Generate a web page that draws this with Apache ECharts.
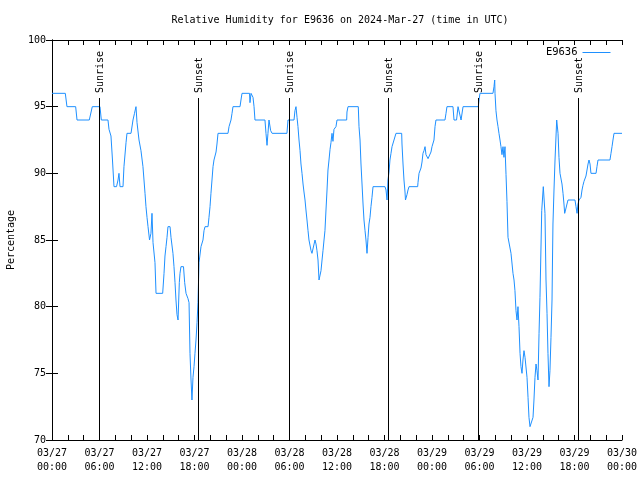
<!DOCTYPE html>
<html>
<head>
<meta charset="utf-8">
<script src="https://cdn.jsdelivr.net/npm/echarts@6/dist/echarts.min.js"></script>
<style>html,body{margin:0;padding:0;background:#fff;}#c{width:640px;height:480px;}</style>
</head>
<body>
<div id="c"></div>
<script>
// hours since 2024-03-27 00:00 UTC
const hours = [
0,1.68,1.89,2.99,3.16,4.71,5.09,6.06,6.23,7.07,7.2,7.45,7.64,7.83,8.15,8.34,8.46,8.59,8.97,9.09,
9.35,9.47,9.98,10.23,10.42,10.61,10.74,10.99,11.24,11.49,11.75,11.87,12.0,12.13,12.32,12.5,12.63,12.76,13.01,13.14,
13.98,14.15,14.27,14.4,14.53,14.65,14.91,15.03,15.28,15.41,15.54,15.66,15.79,15.92,16.08,16.17,16.29,16.61,16.76,16.93,
17.18,17.31,17.43,17.56,17.68,17.81,17.94,18.06,18.19,18.32,18.44,18.57,18.82,19.07,19.2,19.33,19.71,19.83,19.96,20.08,
20.21,20.34,20.46,20.72,20.84,20.97,22.23,22.36,22.61,22.74,22.86,23.75,23.87,24.0,24.95,25.01,25.14,25.26,25.39,25.52,
25.64,26.9,27.03,27.16,27.28,27.41,27.62,27.8,29.68,29.81,30.57,30.69,30.82,30.95,31.07,31.2,31.33,31.45,31.58,31.71,
31.83,31.96,32.08,32.21,32.34,32.46,32.72,32.84,33.09,33.22,33.35,33.47,33.6,33.73,33.98,34.11,34.23,34.36,34.48,34.61,
34.74,34.86,34.99,35.12,35.24,35.37,35.49,35.62,35.87,36.0,37.22,37.26,37.39,38.69,38.78,38.91,39.03,39.16,39.29,39.41,
39.54,39.66,39.79,39.92,40.04,40.17,40.29,40.42,40.55,42.06,42.19,42.32,42.44,42.57,42.69,42.82,42.95,43.2,43.45,44.17,
44.21,44.34,44.46,44.59,44.65,44.84,44.97,45.1,46.19,46.23,46.36,46.61,46.74,46.86,46.99,47.12,47.24,47.5,47.75,47.87,
48.0,48.25,48.38,48.5,49.64,49.77,49.89,50.65,50.78,51.1,51.29,51.48,51.67,51.79,51.92,53.85,53.94,54.06,55.7,55.83,
55.92,55.96,56.08,56.21,56.34,56.46,56.59,56.71,56.84,56.97,57.09,57.22,57.35,57.47,57.6,57.98,58.23,58.36,58.48,58.61,
58.74,58.86,58.99,59.12,59.24,59.37,59.49,59.62,59.75,60.0,60.13,60.25,60.38,60.63,60.76,60.88,61.01,61.14,61.26,61.39,
61.52,61.64,61.86,62.06,62.27,62.4,62.53,62.65,62.78,62.9,63.03,63.16,63.22,63.28,63.41,63.54,63.75,63.92,64.04,64.17,
64.42,64.55,64.67,64.76,64.93,65.05,65.18,66.06,66.19,66.32,66.44,66.57,66.82,66.95,67.07,67.2,67.45,67.58,67.71,67.83,
67.96,68.08,68.72,68.84,68.97,70.48,70.61,70.74,70.86,70.99,72
];
const humidity = [
96,96,95,95,94,94,95,95,94,94,93.3,92.8,91,89,89,89.5,90,89,89,90.5,
92.3,93,93,94,94.5,95,93.8,92.5,91.7,90.5,88.5,87.5,86.7,86,85,85.5,87,84.8,83.3,81,
81,82.5,83.8,84.5,85.2,86,86,85.2,84,83,81.8,80.5,79.4,79,81.8,82.5,83,83,81.8,81,
80.6,80.3,76.5,74.5,73,74.7,75.5,76.5,77.5,78.8,80.3,83.3,84.5,85,85.7,86,86,86.7,87.5,88.5,
89.5,90.5,91,91.6,92.2,93,93,93.5,94,94.5,95,95,95.5,96,96,95.3,96,96,95.7,95,
94,94,93,92.1,93,94,93.2,93,93,94,94,94.7,95,94.2,93.5,92.5,91.7,90.7,90,89.2,
88.6,88,87.25,86.5,85.7,85,84.2,84,84,85,84.7,84.2,83.5,82,82.7,83.5,84.2,85,85.7,87.25,
88.75,90.25,91,91.8,92.3,93,92.4,93.3,93.5,94,94,94.6,95,95,93.5,92.5,90.7,89.2,87.7,86.5,
85.7,85,84,85.2,86.2,86.7,87.5,88.2,89,89,88.75,88,89.5,90.1,91,91.5,92,92.5,93,93,
92.2,90.7,89.5,88.6,88,88.4,88.75,89,89,89.3,90,90.4,90.85,91.5,91.7,92,91.4,91.1,91.1,91.6,
92,92.5,93.5,94,94,94.5,95,95,94,94,95,95,94,94,95,95,95.5,96,96,96.5,
97,96,94.7,94,93.5,93,92.5,92,91.4,92,91.2,92,89.9,87.9,85.2,84,82.5,82,81.2,79.7,
79,80,78.5,76.5,75.5,75,76,76.7,76.2,74.7,73.2,71.7,71,71,71.7,73,74.7,75.7,75.2,74.5,
78,80.7,87.2,89,87,82,79.5,76.5,74,75.2,77.7,80.5,83.5,86.2,88.75,91,94,93,91.2,90,
89.2,88.5,87.7,87,87.4,87.7,88,88,87.5,87,87.7,88,88.2,88.75,89.1,89.4,89.8,90.25,90.7,91,
90.7,90,90,90.5,91,91,91.5,92,92.5,93,93
];
const sunHours = [5.97, 18.47, 29.96, 42.47, 53.87, 66.47];
const sunLabels = ['Sunrise', 'Sunset', 'Sunrise', 'Sunset', 'Sunrise', 'Sunset'];
const xTicks = [0, 6, 12, 18, 24, 30, 36, 42, 48, 54, 60, 66, 72];
const yTicks = [70, 75, 80, 85, 90, 95, 100];

const FONT = 'DejaVu Sans Mono';
const pad = n => (n < 10 ? '0' : '') + n;
function fmtX(v) {
  const d = 27 + Math.floor(v / 24);
  const h = Math.round(v % 24);
  const day = d > 31 ? d - 31 : d;
  const mon = d > 31 ? 4 : 3;
  return pad(mon) + '/' + pad(day) + '\n' + pad(h) + ':00';
}

const chart = echarts.init(document.getElementById('c'), null, {renderer: 'canvas'});
const axisLine = {show: true, lineStyle: {color: '#000', width: 1}};
const lineData = hours.map((h, i) => [h, humidity[i]]);
const sunData = sunHours.map((h, i) => [h, sunLabels[i]]);

chart.setOption({
  backgroundColor: '#fff',
  animation: false,
  textStyle: {fontFamily: FONT},
  title: {
    text: 'Relative Humidity for E9636 on 2024-Mar-27 (time in UTC)',
    left: 335, top: 10, textAlign: 'center',
    textStyle: {fontFamily: FONT, fontSize: 10, fontWeight: 'normal', color: '#000'}
  },
  legend: {
    right: 24, top: 42, align: 'right', itemWidth: 28, itemHeight: 10, itemGap: 5,
    itemStyle: {opacity: 0},
    lineStyle: {width: 1},
    textStyle: {fontFamily: FONT, fontSize: 10.5, color: '#000'},
    data: ['E9636']
  },
  grid: {left: 52, right: 18, top: 40, bottom: 40, containLabel: false, outerBoundsMode: 'none'},
  xAxis: [{
    type: 'value', min: xTicks[0], max: xTicks[xTicks.length - 1], interval: 6,
    axisLine: axisLine,
    axisTick: {show: true, inside: true, length: 5, lineStyle: {color: '#000'}},
    minorTick: {show: true, splitNumber: 3, length: 5, lineStyle: {color: '#000'}},
    splitLine: {show: false},
    axisLabel: {formatter: fmtX, color: '#000', fontFamily: FONT, fontSize: 10, lineHeight: 14, margin: 6,
      showMinLabel: true, showMaxLabel: true}
  }, {
    type: 'value', position: 'top', min: xTicks[0], max: xTicks[xTicks.length - 1], interval: 6,
    axisLine: axisLine,
    axisTick: {show: true, inside: true, length: 5, lineStyle: {color: '#000'}},
    minorTick: {show: true, splitNumber: 3, length: 5, lineStyle: {color: '#000'}},
    splitLine: {show: false}, axisLabel: {show: false}
  }],
  yAxis: [{
    type: 'value', min: yTicks[0], max: yTicks[yTicks.length - 1], interval: 5,
    name: 'Percentage', nameLocation: 'middle', nameGap: 36, nameRotate: 90,
    nameTextStyle: {fontFamily: FONT, fontSize: 10, color: '#000'},
    axisLine: axisLine,
    axisTick: {show: true, inside: true, length: 6, lineStyle: {color: '#000'}},
    splitLine: {show: false},
    axisLabel: {color: '#000', fontFamily: FONT, fontSize: 10, margin: 6}
  }, {
    type: 'value', position: 'right', min: yTicks[0], max: yTicks[yTicks.length - 1], interval: 5,
    axisLine: axisLine,
    axisTick: {show: true, inside: true, length: 6, lineStyle: {color: '#000'}},
    splitLine: {show: false}, axisLabel: {show: false}
  }],
  series: [{
    name: 'E9636', type: 'line', data: lineData, xAxisIndex: 0, yAxisIndex: 0,
    symbol: 'none', showSymbol: false,
    lineStyle: {color: '#1e90ff', width: 1}, itemStyle: {color: '#1e90ff'},
    z: 3
  }, {
    name: 'sun', type: 'custom', data: sunData, xAxisIndex: 0, yAxisIndex: 0,
    silent: true, z: 4,
    renderItem: function (params, api) {
      const t = api.value(0);
      const lab = sunLabels[params.dataIndex];
      const p0 = api.coord([t, 95.65]);
      const p1 = api.coord([t, 70]);
      return {
        type: 'group',
        children: [{
          type: 'line',
          shape: {x1: Math.round(p0[0]) + 0.5, y1: p0[1], x2: Math.round(p1[0]) + 0.5, y2: p1[1]},
          style: {stroke: '#000', lineWidth: 1}
        }, {
          type: 'text',
          x: Math.round(p0[0]) + 1, y: p0[1] - 5,
          rotation: Math.PI / 2,
          style: {text: lab, fill: '#000', font: '10px "' + FONT + '"', align: 'left', verticalAlign: 'middle'}
        }]
      };
    }
  }]
});
</script>
</body>
</html>
